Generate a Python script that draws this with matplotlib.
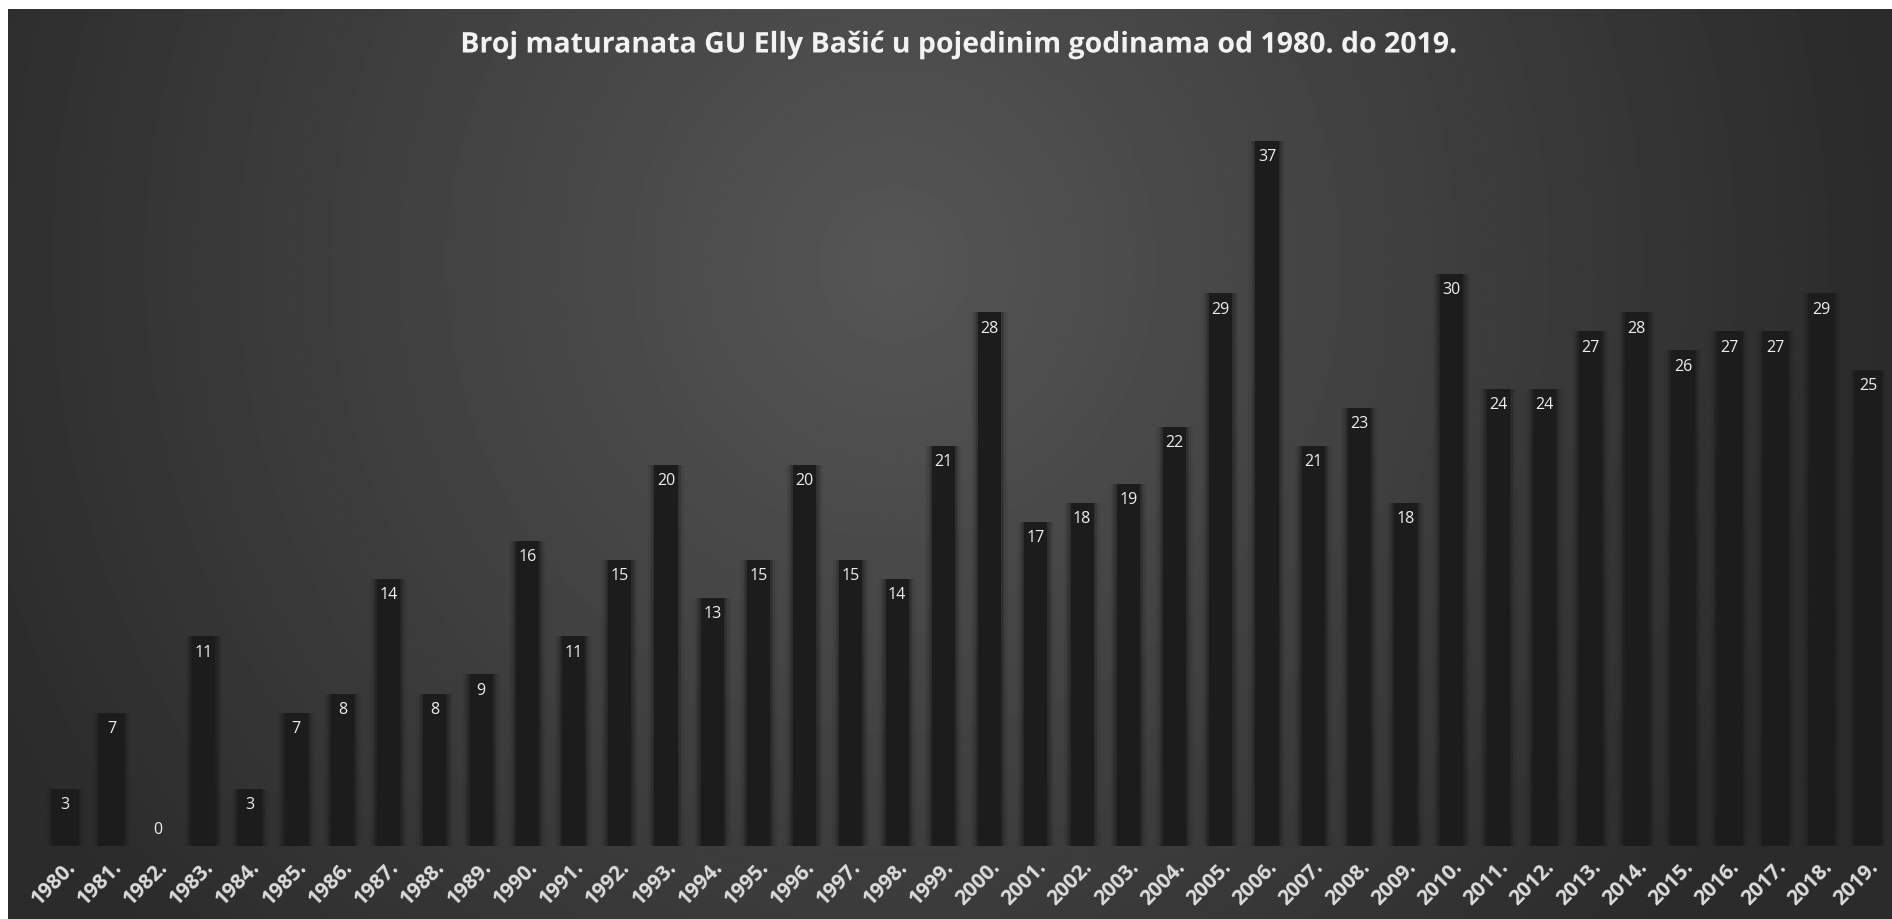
import numpy as np
import matplotlib.pyplot as plt
import matplotlib.patheffects as pe

# Podaci: broj maturanata po godinama
godine = [f"{g}." for g in range(1980, 2020)]
maturanti = [3, 7, 0, 11, 3, 7, 8, 14, 8, 9,
             16, 11, 15, 20, 13, 15, 20, 15, 14, 21,
             28, 17, 18, 19, 22, 29, 37, 21, 23, 18,
             30, 24, 24, 27, 28, 26, 27, 27, 29, 25]
naslov = "Broj maturanata GU Elly Bašić u pojedinim godinama od 1980. do 2019."

W, H, DPI = 1892, 920, 100
fig = plt.figure(figsize=(W / DPI, H / DPI), dpi=DPI, facecolor='white')

# pozadina - radijalni gradijent (svjetlije gore u sredini)
bg = fig.add_axes([8 / W, 0, (W - 8) / W, (H - 10) / H])
bg.set_axis_off()
yy, xx = np.mgrid[0:1:400j, 0:1:800j]
r = np.sqrt(((xx - 0.47) / 0.53) ** 2 + ((yy - 0.28) / 1.15) ** 2)
r = np.clip(r, 0, 1)
shade = 0.337 - 0.168 * r
bg.imshow(shade, cmap='gray', vmin=0, vmax=1, aspect='auto',
          extent=[0, 1, 1, 0], interpolation='bilinear')

# glavni graf
left, right = 42 / W, 1891 / W
bottom, top = (H - 847) / H, (H - 84.6) / H
ax = fig.add_axes([left, bottom, right - left, top - bottom])
ax.patch.set_alpha(0)
x = np.arange(len(godine))

# meka sjena oko stupaca
for k, a in zip([0.80, 0.71, 0.64, 0.58], [0.05, 0.07, 0.10, 0.14]):
    ax.bar(x, maturanti, width=k, color='black', alpha=a, linewidth=0)
ax.bar(x, maturanti, width=0.50, color='#1c1c1c', linewidth=0)

for xi, v in zip(x, maturanti):
    off = -11 if v > 0 else 12
    ax.annotate(str(v), (xi, v), xytext=(0, off), textcoords='offset points',
                ha='center', va='center', color='#eeeeee', fontsize=11.5,
                family='Open Sans')

ax.set_xlim(-0.5, len(godine) - 0.5)
ax.set_ylim(0, 40)
ax.set_yticks([])
ax.set_xticks(x)
ax.set_xticklabels(godine, rotation=45, ha='right', va='top',
                   rotation_mode='anchor', color='#dddddd', fontsize=15,
                   fontweight='bold', family='Open Sans')
ax.tick_params(axis='x', length=0, pad=7)
for s in ax.spines.values():
    s.set_visible(False)

fig.text(959 / W, 1 - 46 / H, naslov, ha='center', va='center',
         color='#f2f2f2', fontsize=20.5, fontweight='bold', family='Open Sans',
         path_effects=[pe.withSimplePatchShadow(offset=(1, -1), alpha=0.5)])

plt.savefig('out.png', dpi=DPI, facecolor=fig.get_facecolor())
